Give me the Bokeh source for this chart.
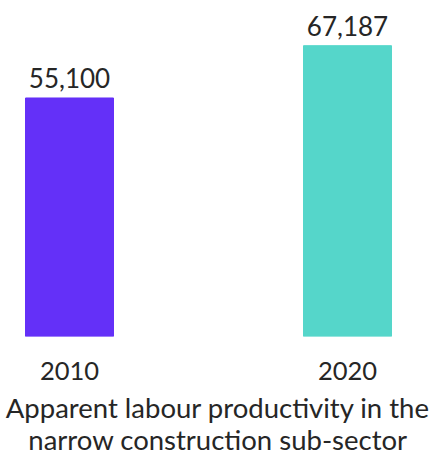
from bokeh.plotting import figure
from bokeh.models import Range1d, FixedTicker, ColumnDataSource
from bokeh.embed import file_html
from bokeh.resources import INLINE

years = ["2010", "2020"]
values = [55100, 67187]
labels = ["55,100", "67,187"]
colors = ["#6430F8", "#55D6CA"]
axis_title = "Apparent labour productivity in the\nnarrow construction sub-sector"

FONT = "Lato"
TXT = "#262626"

idx = list(range(len(years)))
src = ColumnDataSource(dict(x=idx, top=values, color=colors, label=labels))

W, H = 435, 458
px_per_unit_x = 278.0
x0 = -69.0 / px_per_unit_x
frame_bottom = 334.7
y_end = frame_bottom * max(values) / 289.7

p = figure(width=W, height=H, output_backend="svg", toolbar_location=None,
           x_range=Range1d(x0, x0 + W / px_per_unit_x), y_range=Range1d(0, y_end),
           min_border_left=0, min_border_right=0, min_border_top=0,
           min_border_bottom=0, outline_line_color=None, y_axis_location=None)
p.grid.visible = False
p.background_fill_color = "white"
p.border_fill_color = "white"

p.vbar(x="x", top="top", width=88 / px_per_unit_x, bottom=0, color="color", source=src)
p.text(x="x", y="top", text="label", source=src, text_align="center",
       text_baseline="bottom", y_offset=-10, text_font_size="26px",
       text_color=TXT, text_font={"value": FONT})

ax = p.xaxis[0]
ax.ticker = FixedTicker(ticks=idx)
ax.major_label_overrides = {i: y for i, y in zip(idx, years)}
ax.axis_line_color = None
ax.major_tick_line_color = None
ax.minor_tick_line_color = None
ax.major_tick_out = 0
ax.major_label_standoff = 25
ax.major_label_text_font = FONT
ax.major_label_text_font_size = "25.5px"
ax.major_label_text_color = TXT
ax.axis_label = axis_title
ax.axis_label_text_font = FONT
ax.axis_label_text_font_style = "normal"
ax.axis_label_text_font_size = "27.5px"
ax.axis_label_text_color = TXT
ax.axis_label_standoff = 8
ax.axis_label_text_line_height = 0.97

open("out.html", "w").write(file_html(p, INLINE))
